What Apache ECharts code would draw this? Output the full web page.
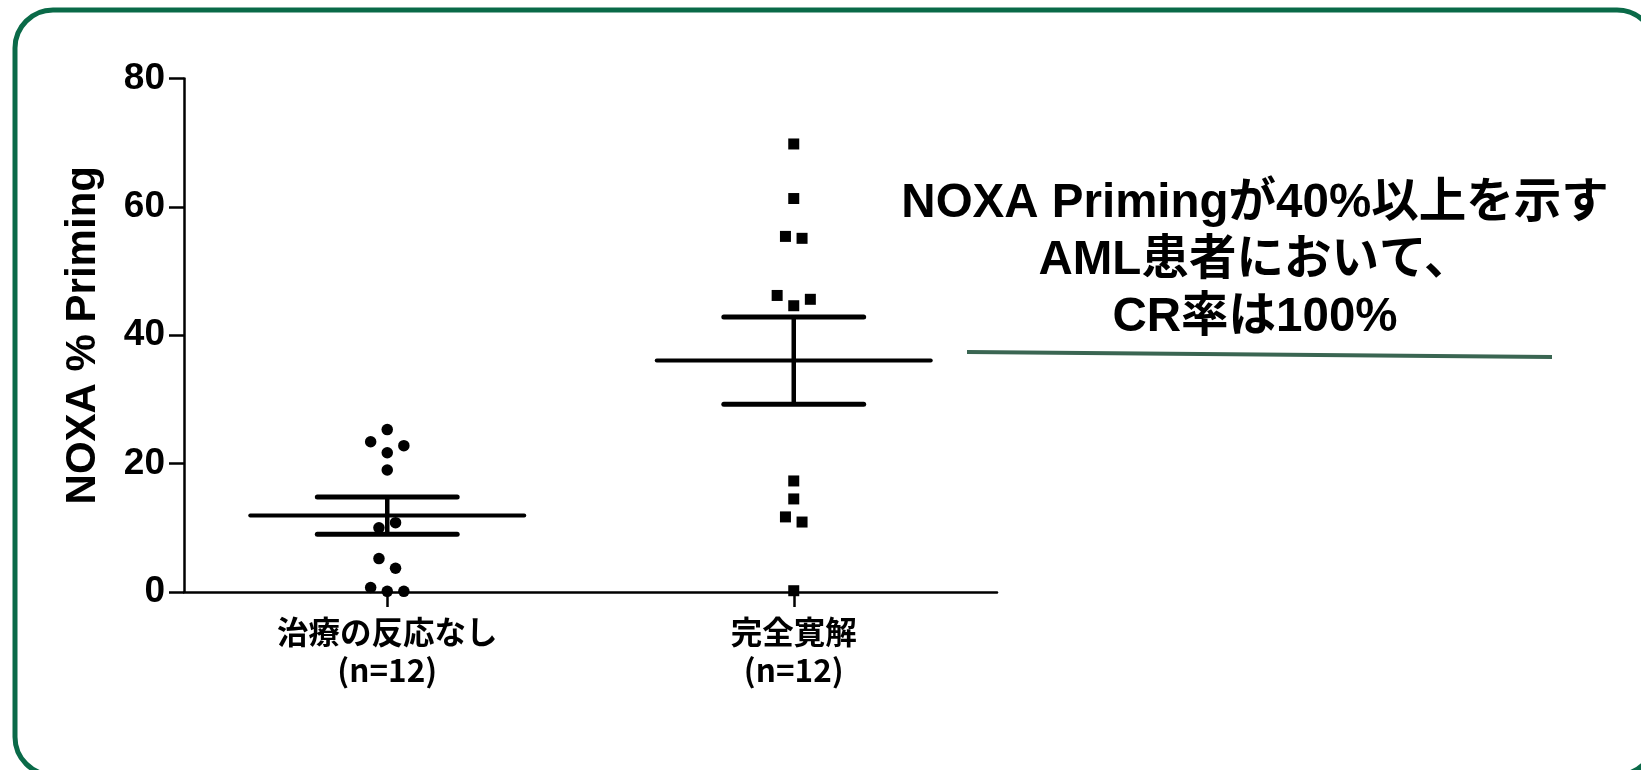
<!DOCTYPE html>
<html>
<head>
<meta charset="utf-8">
<script src="https://cdn.jsdelivr.net/npm/echarts@6/dist/echarts.min.js"></script>
<style>
  html, body { margin: 0; padding: 0; background: #ffffff; }
  #chart { width: 1641px; height: 770px; }
</style>
</head>
<body>
<div id="chart"></div>
<script>
// Group names on the x axis
const categories = ['治療の反応なし', '完全寛解'];

// NOXA % priming per patient
const noResponse = [25.3, 23.4, 22.8, 21.7, 19.0, 10.8, 10.0, 5.2, 3.7, 0.7, 0.1, 0.1];
const completeRemission = [69.8, 61.3, 55.4, 55.1, 46.2, 44.6, 45.6, 17.3, 14.5, 11.7, 10.9, 0.2];

// Y axis scale
const yMin = 0;
const yMax = 80;
const yStep = 20;

const yAxisTitle = 'NOXA % Priming';
const noteLines = ['NOXA Primingが40%以上を示す', 'AML患者において、', 'CR率は100%'];

// ---- layout: horizontal spread of overlapping points (in half-symbol steps)
const spreadNoResponse = [0, -2, 2, 0, 0, 1, -1, -1, 1, -2, 0, 2];
const spreadRemission = [0, 0, -1, 1, -2, 0, 2, 0, 0, -1, 1, 0];
const spreadStep = 8.3;

function mean(a) { return a.reduce((s, v) => s + v, 0) / a.length; }
function sem(a) {
  const m = mean(a);
  const v = a.reduce((s, x) => s + (x - m) * (x - m), 0) / (a.length - 1);
  return Math.sqrt(v) / Math.sqrt(a.length);
}

const groups = [noResponse, completeRemission];
const spreads = [spreadNoResponse, spreadRemission];

function pointsFor(idx) {
  return groups[idx].map((v, i) => ({
    value: [idx, v],
    symbolOffset: [spreads[idx][i] * spreadStep, 0]
  }));
}

const summary = groups.map((g, idx) => [idx, mean(g), sem(g)]);

const latin = "'Liberation Sans', Arial, sans-serif";
const cjk = "'Noto Sans CJK JP', 'Noto Sans CJK SC', sans-serif";
const mixed = "'Liberation Sans', 'Noto Sans CJK JP', sans-serif";

const chart = echarts.init(document.getElementById('chart'), null, { renderer: 'canvas' });

chart.setOption({
  backgroundColor: '#ffffff',
  animation: false,
  grid: { left: 184, right: 644, top: 78.5, bottom: 178, containLabel: false },
  xAxis: {
    type: 'category',
    data: categories,
    boundaryGap: true,
    axisLine: { show: true, lineStyle: { color: '#000', width: 2.5 } },
    axisTick: { show: true, alignWithLabel: true, length: 15, lineStyle: { color: '#000', width: 2.5 } },
    axisLabel: {
      margin: 21,
      color: '#000',
      fontFamily: cjk,
      fontWeight: 'bold',
      fontSize: 31.5,
      lineHeight: 38,
      formatter: (name, i) => name + '\n(n=' + groups[i].length + ')'
    },
    splitLine: { show: false }
  },
  yAxis: {
    type: 'value',
    min: yMin,
    max: yMax,
    interval: yStep,
    name: yAxisTitle,
    nameLocation: 'middle',
    nameGap: 80,
    nameTextStyle: { color: '#000', fontFamily: latin, fontWeight: 'bold', fontSize: 42 },
    axisLine: { show: true, lineStyle: { color: '#000', width: 2.5 } },
    axisTick: { show: true, length: 15, lineStyle: { color: '#000', width: 2.5 } },
    axisLabel: { margin: 19, color: '#000', fontFamily: latin, fontWeight: 'bold', fontSize: 37 },
    splitLine: { show: false }
  },
  series: [
    {
      name: 'mean ± SEM',
      type: 'custom',
      data: summary,
      z: 2,
      renderItem: function (params, api) {
        const x = api.value(0);
        const m = api.value(1);
        const s = api.value(2);
        const c = api.coord([x, m]);
        const hi = api.coord([x, m + s]);
        const lo = api.coord([x, m - s]);
        const band = api.size([1, 0])[0];
        const meanHalf = band * 0.337;
        const capHalf = band * 0.172;
        const black = '#000';
        return {
          type: 'group',
          children: [
            { type: 'line', shape: { x1: c[0] - meanHalf, y1: c[1], x2: c[0] + meanHalf, y2: c[1] },
              style: { stroke: black, lineWidth: 4, lineCap: 'round' } },
            { type: 'line', shape: { x1: c[0], y1: hi[1], x2: c[0], y2: lo[1] },
              style: { stroke: black, lineWidth: 4.5 } },
            { type: 'line', shape: { x1: c[0] - capHalf, y1: hi[1], x2: c[0] + capHalf, y2: hi[1] },
              style: { stroke: black, lineWidth: 5, lineCap: 'round' } },
            { type: 'line', shape: { x1: c[0] - capHalf, y1: lo[1], x2: c[0] + capHalf, y2: lo[1] },
              style: { stroke: black, lineWidth: 5, lineCap: 'round' } }
          ]
        };
      }
    },
    {
      name: categories[0],
      type: 'scatter',
      data: pointsFor(0),
      symbol: 'circle',
      symbolSize: 11.5,
      itemStyle: { color: '#000', opacity: 1 },
      z: 3
    },
    {
      name: categories[1],
      type: 'scatter',
      data: pointsFor(1),
      symbol: 'rect',
      symbolSize: 11,
      itemStyle: { color: '#000', opacity: 1 },
      z: 3
    }
  ],
  graphic: [
    {
      type: 'rect',
      silent: true,
      shape: { x: 15, y: 10, width: 1640, height: 765, r: 38 },
      style: { fill: 'none', stroke: '#0a6a48', lineWidth: 5 }
    },
    {
      type: 'text',
      silent: true,
      x: 1255,
      y: 175,
      style: {
        text: noteLines.join('\n'),
        fill: '#000',
        font: 'bold 47.5px ' + mixed,
        lineHeight: 57,
        align: 'center',
        verticalAlign: 'top'
      }
    },
    {
      type: 'line',
      silent: true,
      shape: { x1: 967, y1: 352, x2: 1552, y2: 357 },
      style: { stroke: '#3a6652', lineWidth: 4 }
    }
  ]
});
</script>
</body>
</html>
